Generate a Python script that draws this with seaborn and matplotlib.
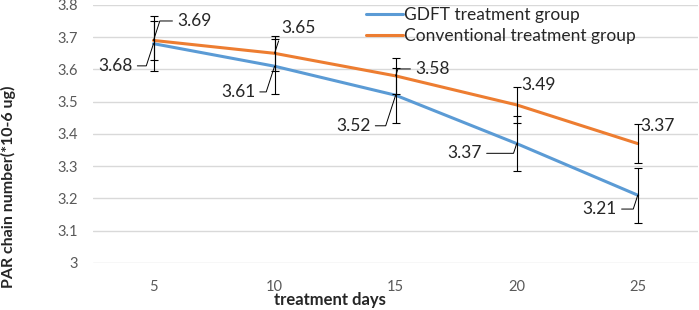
import seaborn as sns
import matplotlib.pyplot as plt
import pandas as pd

# data
days = [5, 10, 15, 20, 25]
gdft = [3.68, 3.61, 3.52, 3.37, 3.21]
conventional = [3.69, 3.65, 3.58, 3.49, 3.37]
gdft_err = [0.085, 0.085, 0.085, 0.085, 0.085]
conv_err = [0.06, 0.055, 0.055, 0.055, 0.06]
series_names = ['GDFT treatment group', 'Conventional treatment group']
y_ticks = [3.0, 3.1, 3.2, 3.3, 3.4, 3.5, 3.6, 3.7, 3.8]
y_tick_labels = ['3', '3.1', '3.2', '3.3', '3.4', '3.5', '3.6', '3.7', '3.8']

# label offsets in points (text edge relative to the point)
gdft_offsets = [(-15, -16), (-14, -18.5), (-18, -22), (-25, -7), (-15, -10)]
conv_offsets = [(17, 14), (5, 18), (14, 5), (3, 14), (1.5, 13)]

df = pd.DataFrame({
    'days': days * 2,
    'value': gdft + conventional,
    'group': [series_names[0]] * len(days) + [series_names[1]] * len(days),
})

sns.set_style('white')
plt.rcParams['font.family'] = ['Lato', 'DejaVu Sans']

fig = plt.figure(figsize=(6.99, 3.10), dpi=100)
ax = fig.add_axes([0.133, 0.152, 0.866, 0.832])

palette = {series_names[0]: '#5B9BD5', series_names[1]: '#ED7D31'}
sns.lineplot(data=df, x='days', y='value', hue='group', palette=palette,
             linewidth=2.2, ax=ax, zorder=3)

# error bars
ax.errorbar(days, gdft, yerr=gdft_err, fmt='none', ecolor='black',
            elinewidth=0.8, capsize=3, capthick=0.8, zorder=4)
ax.errorbar(days, conventional, yerr=conv_err, fmt='none', ecolor='black',
            elinewidth=0.8, capsize=3, capthick=0.8, zorder=4)


def add_label(x, y, off, ha):
    # leader line only when the label sits away from its point
    far = (off[0] ** 2 + off[1] ** 2) ** 0.5 > 14.5
    arrow = None
    if far:
        arrow = dict(arrowstyle='-', color='black', lw=0.7, shrinkA=1, shrinkB=0,
                     connectionstyle='angle,angleA=0,angleB=72,rad=0')
    ax.annotate(f'{y:.2f}', xy=(x, y), xytext=off, textcoords='offset points',
                ha=ha, va='center', fontsize=12.5, arrowprops=arrow, zorder=5)


for x, y, off in zip(days, gdft, gdft_offsets):
    add_label(x, y, off, 'right')
for x, y, off in zip(days, conventional, conv_offsets):
    add_label(x, y, off, 'left')

ax.set_xlim(2.5, 27.5)
ax.set_ylim(3.0, 3.8)
ax.set_xticks(days)
ax.set_xticklabels([str(d) for d in days])
ax.set_yticks(y_ticks)
ax.set_yticklabels(y_tick_labels)
ax.tick_params(axis='both', length=0, labelsize=10.5, colors='#595959')
ax.tick_params(axis='x', pad=12)
ax.tick_params(axis='y', pad=11)
ax.yaxis.grid(True, color='#d9d9d9', lw=1)
ax.set_axisbelow(True)
for s in ax.spines.values():
    s.set_visible(False)

ax.set_xlabel('treatment days', fontsize=12, fontweight='bold', va='center')
ax.xaxis.set_label_coords(0.392, -0.143)
ax.set_ylabel('PAR chain number(*10-6 ug)', fontsize=11.5, fontweight='bold',
              va='center')
ax.yaxis.set_label_coords(-0.139, 0.295)

leg = ax.legend(loc='upper left', bbox_to_anchor=(0.44, 1.02), frameon=False,
                fontsize=12.5, handlelength=2.1, handletextpad=0.1,
                labelspacing=0.3, borderaxespad=0)

fig.savefig('out.png', dpi=100)
